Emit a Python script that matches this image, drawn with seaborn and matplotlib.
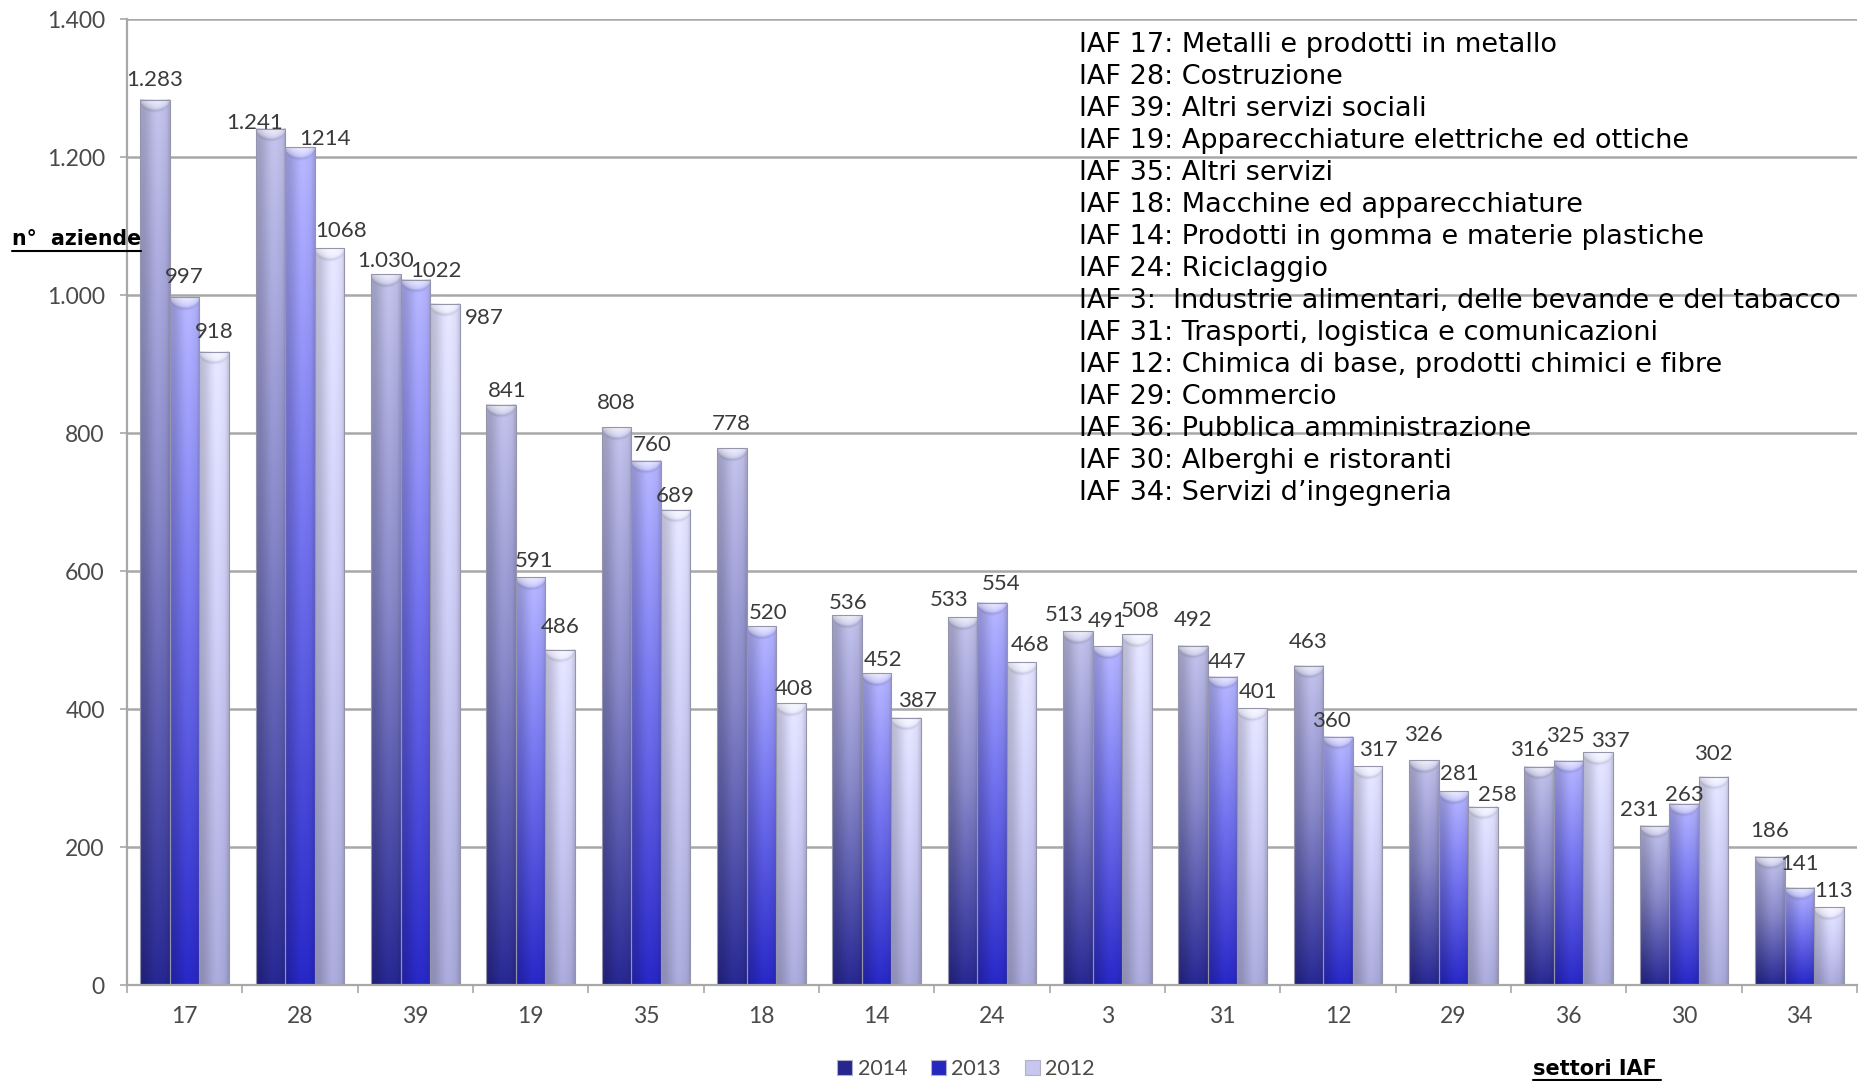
import numpy as np
import pandas as pd
import matplotlib
matplotlib.use("Agg")
import matplotlib.pyplot as plt
from matplotlib.patches import Patch
from matplotlib.ticker import FuncFormatter, FixedLocator
import matplotlib.colors as mcolors
import seaborn as sns

# ---------------- data ----------------
settori = ['17', '28', '39', '19', '35', '18', '14', '24', '3', '31', '12', '29', '36', '30', '34']
anni = ['2014', '2013', '2012']
v2014 = [1283, 1241, 1030, 841, 808, 778, 536, 533, 513, 492, 463, 326, 316, 231, 186]
v2013 = [997, 1214, 1022, 591, 760, 520, 452, 554, 491, 447, 360, 281, 325, 263, 141]
v2012 = [918, 1068, 987, 486, 689, 408, 387, 468, 508, 401, 317, 258, 337, 302, 113]
y_ticks = [0, 200, 400, 600, 800, 1000, 1200, 1400]

descrizioni = [
    "IAF 17: Metalli e prodotti in metallo",
    "IAF 28: Costruzione",
    "IAF 39: Altri servizi sociali",
    "IAF 19: Apparecchiature elettriche ed ottiche",
    "IAF 35: Altri servizi",
    "IAF 18: Macchine ed apparecchiature",
    "IAF 14: Prodotti in gomma e materie plastiche",
    "IAF 24: Riciclaggio",
    "IAF 3:  Industrie alimentari, delle bevande e del tabacco",
    "IAF 31: Trasporti, logistica e comunicazioni",
    "IAF 12: Chimica di base, prodotti chimici e fibre",
    "IAF 29: Commercio",
    "IAF 36: Pubblica amministrazione",
    "IAF 30: Alberghi e ristoranti",
    "IAF 34: Servizi d\u2019ingegneria",
]

df = pd.DataFrame({
    'settore': settori * 3,
    'anno': sum([[a] * len(settori) for a in anni], []),
    'n': v2014 + v2013 + v2012,
})

# ---------------- style ----------------
W, H, DPI = 1866, 1081, 100
sns.set_style('white')
plt.rcParams['font.family'] = ['Lato', 'DejaVu Sans']

# gradient stops (top, mid, bottom) per series
grad = {
    '2014': ('#bcbce4', '#8484c2', '#26268e'),
    '2013': ('#b0b0f8', '#7070e6', '#2626c0'),
    '2012': ('#dedefa', '#c6c6ee', '#a4a4d4'),
}
mid_col = {a: grad[a][1] for a in anni}

# label nudges: (dx px, gap px above bar top to baseline)
nudge = {
    ('28', '2014'): (-16, 0), ('28', '2013'): (25, 2), ('28', '2012'): (11, 11),
    ('39', '2014'): (0, 7), ('39', '2013'): (21, 3), ('39', '2012'): (39, -20),
    ('19', '2014'): (6, 8), ('19', '2013'): (3, 10), ('19', '2012'): (0, 17),
    ('35', '2014'): (0, 18), ('35', '2013'): (6, 10), ('35', '2012'): (0, 8),
    ('18', '2014'): (0, 18), ('18', '2013'): (7, 7), ('18', '2012'): (3, 8),
    ('14', '2014'): (1, 6), ('14', '2013'): (6, 7), ('14', '2012'): (11, 11),
    ('24', '2014'): (-13, 11), ('24', '2013'): (9, 13), ('24', '2012'): (9, 11),
    ('3', '2014'): (-14, 10), ('3', '2013'): (0, 19), ('3', '2012'): (3, 17),
    ('31', '2014'): (0, 20), ('31', '2013'): (4, 9), ('31', '2012'): (6, 10),
    ('12', '2014'): (0, 18), ('12', '2013'): (-7, 10), ('12', '2012'): (11, 10),
    ('29', '2014'): (0, 19), ('29', '2013'): (6, 11), ('29', '2012'): (14, 6),
    ('36', '2014'): (-10, 11), ('36', '2013'): (-3, 19), ('36', '2012'): (12, 5),
    ('30', '2014'): (-15, 10), ('30', '2013'): (0, 3), ('30', '2012'): (0, 17),
    ('34', '2014'): (0, 20), ('34', '2013'): (0, 18), ('34', '2012'): (5, 10),
}

fig = plt.figure(figsize=(W / DPI, H / DPI), dpi=DPI)
ax_l, ax_r, ax_t, ax_b = 127, 1857, 19, 985
ax = fig.add_axes([ax_l / W, 1 - ax_b / H, (ax_r - ax_l) / W, (ax_b - ax_t) / H])

sns.barplot(data=df, x='settore', y='n', hue='anno', order=settori, hue_order=anni,
            palette=mid_col, width=0.77, gap=0, dodge=True, legend=False,
            edgecolor='#9494ac', linewidth=0.8, ax=ax, zorder=2.5)

ax.set_xlim(-0.5, len(settori) - 0.5)
ax.set_ylim(0, 1400)
px_per_unit = (ax_b - ax_t) / 1400.0
px_per_cat = (ax_r - ax_l) / len(settori)


def bar_image(stops, hpx, wpx):
    rows = max(int(round(hpx)), 3)
    cols = max(int(round(wpx)), 3)
    top, mid, bot = [np.array(mcolors.to_rgb(c)) for c in stops]
    t = np.linspace(0, 1, rows)[:, None, None]
    s1 = np.clip(t / 0.45, 0, 1)
    upper = top[None, None, :] * (1 - s1) + mid[None, None, :] * s1
    s2 = np.clip((t - 0.45) / 0.55, 0, 1)
    lower = mid[None, None, :] * (1 - s2) + bot[None, None, :] * s2
    col = np.where(t < 0.45, upper, lower)
    col = np.repeat(col, cols, axis=1)
    u = np.linspace(0, 1, cols)
    shade = 1 - 0.14 * np.exp(-((u - 0.06) / 0.28) ** 2) - 0.10 * np.exp(-((u - 1.0) / 0.08) ** 2) \
        + 0.05 * np.exp(-((u - 0.6) / 0.2) ** 2)
    col = col * shade[None, :, None]
    # rounded (crescent) top highlight
    d = np.arange(rows)[:, None].astype(float)
    ell = np.sqrt(np.clip(1 - ((u[None, :] - 0.5) / 0.52) ** 2, 0, 1))
    depth = 11.0 * ell + 1e-3
    hl = np.clip(1 - d / depth, 0, 1) ** 0.6 * 0.72 * (0.4 + 0.6 * ell)
    rim = np.exp(-((d - depth) / 1.6) ** 2) * 0.10 * ell
    col = col * (1 - hl[..., None]) + hl[..., None]
    col = col * (1 - rim[..., None])
    return np.clip(col, 0, 1)


def fmt_label(v, anno):
    if anno == '2014' and v >= 1000:
        return f"{v:,}".replace(',', '.')
    return str(v)


for anno, cont in zip(anni, ax.containers):
    for cat, bar in zip(settori, cont):
        x0 = bar.get_x()
        w = bar.get_width()
        h = bar.get_height()
        img = bar_image(grad[anno], h * px_per_unit, w * px_per_cat)
        ax.imshow(img, extent=(x0, x0 + w, 0, h), aspect='auto', origin='upper',
                  zorder=2.2, interpolation='bilinear')
        bar.set_facecolor('none')
        dx, gap = nudge.get((cat, anno), (0, 14))
        ax.annotate(fmt_label(int(h), anno), xy=(x0 + w / 2, h),
                    xytext=(dx * 72 / DPI, gap * 72 / DPI), textcoords='offset points',
                    ha='center', va='baseline', fontsize=16, color='#3a3a3a',
                    family=['Lato', 'DejaVu Sans'], zorder=4)

ax.set_xlim(-0.5, len(settori) - 0.5)
ax.set_ylim(0, 1400)
ax.set_aspect('auto')

# grid & spines
ax.set_axisbelow(True)
ax.yaxis.set_major_locator(FixedLocator(y_ticks))
ax.yaxis.grid(True, color='#a8a8a8', linewidth=1.8, zorder=0)
ax.xaxis.grid(False)
for s in ['top', 'right']:
    ax.spines[s].set_visible(False)
for s in ['left', 'bottom']:
    ax.spines[s].set_color('#a8a8a8')
    ax.spines[s].set_linewidth(1.6)

ax.yaxis.set_major_formatter(FuncFormatter(lambda v, p: f"{int(v):,}".replace(',', '.')))
ax.tick_params(axis='y', length=5, width=1.2, color='#a8a8a8', pad=11,
               labelsize=16.5, labelcolor='#4a4a4a', left=True)
ax.tick_params(axis='x', which='major', length=0, pad=15, labelsize=16.5, labelcolor='#4a4a4a')
ax.xaxis.set_minor_locator(FixedLocator(np.arange(-0.5, len(settori), 1.0)))
ax.tick_params(axis='x', which='minor', length=6, width=1.2, color='#a8a8a8', bottom=True)
ax.set_xlabel('')
ax.set_ylabel('')

# description list
for i, line in enumerate(descrizioni):
    fig.text(1079 / W, 1 - (45 + 32.0 * i) / H, line, ha='left', va='center',
             fontsize=19.5, color='black', family=['DejaVu Sans'])

# axis titles
fig.text(12 / W, 1 - 239 / H, 'n\u00b0  aziende', ha='left', va='center', fontsize=14.8,
         fontweight='bold', color='black', family=['DejaVu Sans'])
fig.add_artist(plt.Line2D([12 / W, 141 / W], [1 - 251 / H, 1 - 251 / H], color='black', lw=1.5))
fig.text(1533 / W, 1 - 1069 / H, 'settori IAF', ha='left', va='center', fontsize=15,
         fontweight='bold', color='black', family=['DejaVu Sans'])
fig.add_artist(plt.Line2D([1533 / W, 1661 / W], [1 - 1080 / H, 1 - 1080 / H], color='black', lw=1.5))

# legend
handles = [Patch(facecolor=grad[a][2] if a != '2012' else grad[a][1], edgecolor='#b0b0c8', linewidth=0.8)
           for a in anni]
leg = fig.legend(handles, anni, loc='center', bbox_to_anchor=(966 / W, 1 - 1069 / H), ncol=3,
                 frameon=False, handlelength=0.7, handleheight=0.7, handletextpad=0.25,
                 columnspacing=1.1, fontsize=15.5, labelcolor='#4a4a4a')

fig.savefig('out.png', dpi=DPI)
